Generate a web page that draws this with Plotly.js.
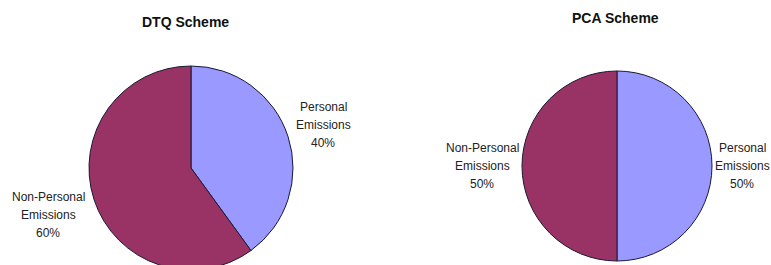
<!DOCTYPE html>
<html>
<head>
<meta charset="utf-8">
<script src="https://cdn.plot.ly/plotly-3.0.1.min.js"></script>
<style>html,body{margin:0;padding:0;overflow:hidden;background:#fff;}#chart{width:771px;height:300px;}</style>
</head>
<body>
<div id="chart"></div>
<script>
// Data
const categories = ["Personal Emissions", "Non-Personal Emissions"];
const dtqValues = [40, 60];
const pcaValues = [50, 50];
const schemeTitles = ["DTQ Scheme", "PCA Scheme"];
const sliceColors = ["#9999FF", "#993366"];

const W = 771, H = 300;
const px = x => x / W;
const py = y => 1 - y / H;

// pie geometry (pixels): center x, center y, radius
const pies = [
  {vals: dtqValues, cx: 191, cy: 168, r: 102, title: schemeTitles[0], tx: 185, ty: 22,
   labelPos: [{x: 323, y: 107}, {x: 48, y: 197}]},
  {vals: pcaValues, cx: 617, cy: 166, r: 95, title: schemeTitles[1], tx: 615, ty: 18,
   labelPos: [{x: 742, y: 148}, {x: 482, y: 148}]}
];

const font = {family: "Liberation Sans, Arial, sans-serif", size: 12, color: "#222"};
const traces = [];
const annotations = [];
pies.forEach(p => {
  traces.push({
    type: "pie",
    labels: categories,
    values: p.vals,
    sort: false,
    direction: "clockwise",
    rotation: 0,
    textinfo: "none",
    hoverinfo: "label+percent",
    marker: {colors: sliceColors, line: {color: "#1a1a33", width: 1}},
    domain: {x: [px(p.cx - p.r), px(p.cx + p.r)], y: [py(p.cy + p.r), py(p.cy - p.r)]},
    showlegend: false
  });
  annotations.push({
    text: "<b>" + p.title + "</b>", x: px(p.tx), y: py(p.ty), xref: "paper", yref: "paper",
    xanchor: "center", yanchor: "middle", showarrow: false,
    font: {family: font.family, size: 14, color: "#111"}
  });
  const total = p.vals.reduce((a, b) => a + b, 0);
  categories.forEach((c, i) => {
    const lines = c.split(" ").concat([Math.round(p.vals[i] / total * 100) + "%"]);
    lines.forEach((ln, j) => {
      annotations.push({
        text: ln, x: px(p.labelPos[i].x), y: py(p.labelPos[i].y + j * 18),
        xref: "paper", yref: "paper", xanchor: "center", yanchor: "middle",
        showarrow: false, font: font
      });
    });
  });
});

Plotly.newPlot("chart", traces, {
  width: W, height: H,
  margin: {l: 0, r: 0, t: 0, b: 0},
  paper_bgcolor: "#fff",
  annotations: annotations
}, {staticPlot: true});
</script>
</body>
</html>
